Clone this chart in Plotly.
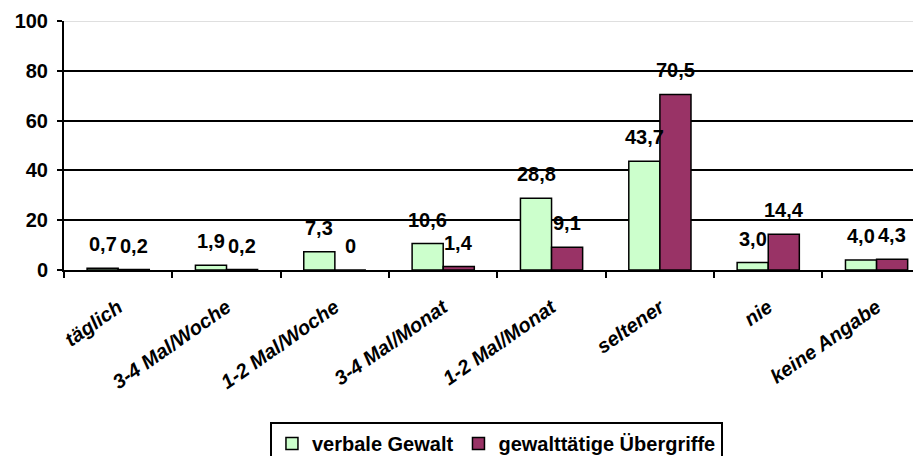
import plotly.graph_objects as go

# categories and values
categories = ['täglich', '3-4 Mal/Woche', '1-2 Mal/Woche', '3-4 Mal/Monat',
              '1-2 Mal/Monat', 'seltener', 'nie', 'keine Angabe']
verbal = [0.7, 1.9, 7.3, 10.6, 28.8, 43.7, 3.0, 4.0]
violent = [0.2, 0.2, 0, 1.4, 9.1, 70.5, 14.4, 4.3]
verbal_labels = ['0,7', '1,9', '7,3', '10,6', '28,8', '43,7', '3,0', '4,0']
violent_labels = ['0,2', '0,2', '0', '1,4', '9,1', '70,5', '14,4', '4,3']
y_ticks = [0, 20, 40, 60, 80, 100]

FONT = 'Liberation Sans, Arial, sans-serif'
GREEN = '#CCFFCC'
MAROON = '#993366'

fig = go.Figure()
fig.add_trace(go.Bar(x=categories, y=verbal, name='verbale Gewalt',
                     marker=dict(color=GREEN, line=dict(color='black', width=1.5))))
fig.add_trace(go.Bar(x=categories, y=violent, name='gewalttätige Übergriffe',
                     marker=dict(color=MAROON, line=dict(color='black', width=1.5))))

# data labels sit well above the bars, Excel style
for cat, v, t in zip(categories, verbal, verbal_labels):
    fig.add_annotation(x=cat, y=v, text=t, showarrow=False, xshift=-15.5, yshift=24,
                       font=dict(family=FONT, size=20, color='black', weight='bold'))
for cat, v, t in zip(categories, violent, violent_labels):
    fig.add_annotation(x=cat, y=v, text=t, showarrow=False, xshift=15.5, yshift=24,
                       font=dict(family=FONT, size=20, color='black', weight='bold'))

# thin grey frame line at the top instead of a black gridline
fig.add_shape(type='line', xref='paper', yref='y', x0=0, x1=1, y0=100, y1=100,
              line=dict(color='white', width=3))
fig.add_shape(type='line', xref='paper', yref='y', x0=0, x1=1, y0=100, y1=100,
              line=dict(color='#C0C0C0', width=1))

# the page body adds an 8px margin, so the figure is a little smaller than the window
fig.update_layout(
    width=913, height=448,
    margin=dict(l=56, r=0, t=13, b=186),
    plot_bgcolor='white', paper_bgcolor='white',
    barmode='group', bargap=0.426, bargroupgap=0,
    font=dict(family=FONT, color='black'),
    legend=dict(orientation='h', xref='container', yref='container',
                x=0.535, xanchor='center', y=0.076, yanchor='top',
                bordercolor='black', borderwidth=2, itemwidth=30,
                font=dict(family=FONT, size=20, color='black', weight='bold')),
)
fig.update_xaxes(range=[-0.5, 7.41], showline=True, linecolor='black', linewidth=2,
                 ticks='outside', tickson='boundaries', ticklen=6, tickcolor='black',
                 tickwidth=2, tickangle=-35, ticklabelstandoff=16,
                 tickfont=dict(family=FONT, size=20, color='black', weight='bold',
                               style='italic'))
fig.update_yaxes(range=[0, 100], tickvals=y_ticks, showline=True, linecolor='black',
                 linewidth=2, showgrid=True, gridcolor='black', gridwidth=2,
                 zeroline=False, ticks='outside', ticklen=5, tickcolor='black',
                 tickwidth=2, ticklabelstandoff=5,
                 tickfont=dict(family=FONT, size=20, color='black', weight='bold'))

fig.write_html("out.html")
